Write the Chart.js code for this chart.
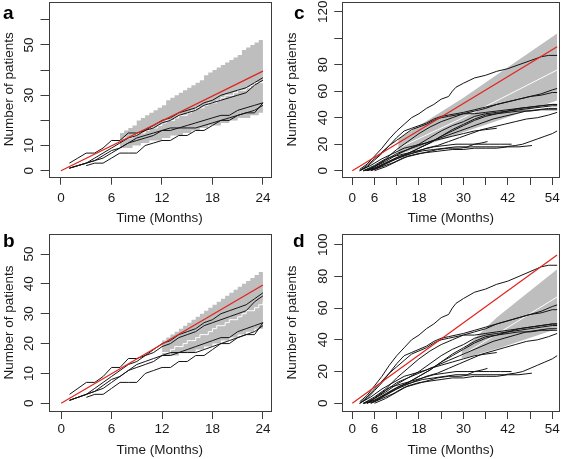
<!DOCTYPE html>
<html>
<head>
<meta charset="utf-8">
<script src="https://cdn.jsdelivr.net/npm/chart.js@4.4.0/dist/chart.umd.min.js"></script>
<style>
  html, body { margin: 0; padding: 0; background: #fff; }
  #wrap { position: relative; width: 567px; height: 459px; }
  canvas { position: absolute; }
</style>
</head>
<body>
<div id="wrap">
  <canvas id="pa" width="283" height="229" style="left:0;top:0"></canvas>
  <canvas id="pc" width="284" height="229" style="left:283px;top:0"></canvas>
  <canvas id="pb" width="283" height="230" style="left:0;top:229px"></canvas>
  <canvas id="pd" width="284" height="230" style="left:283px;top:229px"></canvas>
</div>
<script>
// ---- data: panels a/b (24 months, 5 sites), monthly cumulative counts ----
const abStart = [1, 1, 1, 1, 3];
const abSite1 = [3,5,7,7,9,12,12,15,15,16,18,20,21,23,24,25,27,28,30,31,32,33,35,37];
const abSite2 = [1,2,3,5,7,9,11,13,14,16,17,19,20,22,23,24,26,27,28,29,30,31,34,36];
const abSite3 = [1,2,3,4,6,8,9,11,13,14,15,16,17,17,18,19,20,21,22,22,24,25,26,27];
const abSite4 = [1,2,3,4,5,7,9,11,12,13,14,16,16,17,17,17,18,19,20,21,22,23,24,26];
const abSite5 = [2,3,3,5,7,7,7,10,11,12,12,14,14,16,16,18,20,20,22,23,23,27];
const abTarget = [[0, 0], [24, 39.6]];

// prediction bands (half-month steps)
const aBandStart = 7;
const aUpper  = [15,16,17,18,20,21,22,23,24,25,26,28,29,30,31,32,33,34,35,36,38,39,40,41,42,43,44,45,46,48,49,50,51,52,53.5];
const aLower  = [9,9,9,10,10,11,11,12,12,12,13,13,14,14,14,15,15,16,16,17,17,18,18,18,19,19,20,20,21,21,21,22,22,23,23];
const aMedian = [12,13,13,14,15,15,16,17,17,18,19,20,20,21,22,22,23,24,25,25,26,27,27,28,29,30,30,31,32,32,33,34,35,35,36];
const bBandStart = 12;
const bUpper  = [21,22,23,24,25,26,27,28,29,30,31,32,33,34,35,36,37,38,39,40,41,42,43,44,45];
const bLower  = [16,16,16,16,17,17,17,17,18,18,19,19,20,20,21,21,22,22,23,23,24,24,25,25,26];
const bMedian = [17,17,18,19,19,20,21,21,22,23,23,24,25,26,26,27,28,28,29,30,31,31,32,33,34];

// ---- data: panels c/d (about 55 months, 14 sites) as [month, patients] ----
const cdSites = [
  [[2,1],[4,5],[6,11],[8,17],[10,24],[12,30],[14,35],[16,40],[18,43],[20,47],[22,50],[24,54],[26,56],[27,60],[28,63],[30,66],[33,70],[36,72],[39,75],[42,77],[45,80],[48,83],[51,86],[53,87],[55.3,87]],
  [[2,0],[4,3],[6,8],[8,13],[10,19],[12,25],[14,30],[16,32],[18,34],[20,36],[22,39],[24,41],[26,42],[28,43],[30,44],[33,46],[36,48],[39,50],[42,52],[45,54],[48,56],[51,58],[54,61],[55.3,62]],
  [[3,0],[6,4],[9,9],[12,16],[15,22],[18,28],[21,33],[24,37],[27,40],[30,43],[33,45],[36,47],[39,50],[42,52],[45,54],[48,56],[51,57],[54,59],[55.3,59]],
  [[3,0],[6,2],[9,6],[12,10],[15,13],[18,17],[21,21],[24,26],[27,30],[30,34],[33,38],[36,41],[39,43],[42,45],[45,47],[48,48],[51,49],[54,50],[55.3,50]],
  [[4,0],[6,3],[9,7],[12,12],[15,16],[18,20],[21,25],[24,30],[27,34],[30,37],[33,41],[36,43],[39,44],[42,45],[45,46],[48,47],[51,48],[54,49],[55.3,49]],
  [[2,0],[5,4],[8,9],[11,13],[14,17],[17,19],[20,21],[23,24],[26,27],[29,30],[32,33],[35,36],[38,39],[41,41],[44,43],[47,45],[50,46],[53,47],[55.3,47]],
  [[3,0],[6,1],[9,5],[12,9],[15,13],[18,17],[21,21],[24,26],[27,31],[30,35],[33,39],[36,42],[39,43],[42,44],[45,45],[48,45],[51,46],[55.3,46]],
  [[5,0],[8,4],[11,8],[14,11],[17,14],[20,17],[23,19],[26,22],[29,25],[32,28],[35,31],[38,33],[41,35],[44,37],[47,39],[50,40],[53,42],[55.3,44]],
  [[5,0],[8,3],[11,6],[14,10],[17,12],[20,14],[23,16],[26,17],[29,17],[32,18],[35,18],[38,18],[41,18],[44,19],[46,20],[48,22],[50,24],[52,26],[54,28],[55.3,30]],
  [[4,0],[7,3],[10,7],[13,11],[16,13],[19,15],[22,16],[25,17],[28,18],[31,18],[33,20],[35,21],[36.5,22]],
  [[6,0],[9,3],[12,7],[15,11],[18,13],[21,14],[24,15],[27,16],[30,16],[33,17],[36,17],[39,17],[42,18],[45,18],[48.5,19]],
  [[4,0],[7,5],[10,10],[13,12],[16,14],[19,16],[22,18],[25,19],[28,20],[31,20],[34,20],[37,20],[40,20],[43,20]],
  [[3,0],[6,3],[9,8],[12,13],[15,16],[18,19],[21,22],[24,24],[27,26],[30,28],[33,30],[36,31],[39,32]],
  [[2,0],[4,4],[6,9],[8,14],[10,19],[12,23],[14,27],[16,31],[18,33],[20,35],[22,38],[24,40],[26,41],[28,42],[30,43],[33,43],[36,44],[39,45],[42,46],[45,47],[48,48],[51,49],[54,50],[55.3,50]]
];
const cdTarget = [[0, 0], [55.3, 93.5]];
const cUpper  = [[12.4, 24], [30, 55], [55.3, 103.6]];
const cLower  = [[12.4, 12], [30, 29], [55.3, 53]];
const cMedian = [[12.4, 17], [30, 40], [55.3, 76]];
const dUpper  = [[29.5, 33], [39, 54], [55.3, 84.5]];
const dLower  = [[29.5, 28], [40, 35], [55.3, 47]];
const dMedian = [[29.5, 30], [40, 45], [55.3, 67]];

// ---- ticks ----
const xTicksAB = [0, 6, 12, 18, 24];
const xLabelsAB = [0, 6, 12, 18, 24];
const xTicksCD = [0, 6, 12, 18, 24, 30, 36, 42, 48, 54];
const xLabelsCD = [0, 6, 18, 30, 42, 54];
const yTicksA = [0, 10, 20, 30, 40, 50, 60];
const yLabelsA = [0, 10, 30, 50];
const yTicksB = [0, 10, 20, 30, 40, 50];
const yLabelsB = [0, 10, 20, 30, 40, 50];
const yTicksC = [0, 20, 40, 60, 80, 100, 120];
const yLabelsC = [0, 20, 40, 60, 80, 120];
const yTicksD = [0, 20, 40, 60, 80, 100];
const yLabelsD = [0, 20, 40, 60, 80, 100];

Chart.defaults.font.family = '"Liberation Sans", Arial, sans-serif';
Chart.defaults.font.size = 13.5;
Chart.defaults.color = '#1a1a1a';

const AXIS = '#3c3c3c';
const BAND = '#bebebe';

const pairs = arr => arr.map(p => ({x: p[0], y: p[1]}));
const monthly = (start, step, vals) => vals.map((v, i) => ({x: start + i * step, y: v}));

function line(data, color, extra) {
  return Object.assign({data: data, borderColor: color, borderWidth: 1, pointRadius: 0,
    tension: 0, fill: false}, extra || {});
}

function buildSets(sites, target, upper, lower, median, stepped) {
  const sets = [line(target, '#e3221b', {borderWidth: 1.2})];
  sites.forEach(s => sets.push(line(s, '#141414')));
  sets.push(line(median, '#ffffff', {stepped: stepped}));
  const up = sets.length;
  sets.push(line(upper, 'rgba(0,0,0,0)', {stepped: stepped}));
  sets.push(line(lower, 'rgba(0,0,0,0)', {stepped: stepped, fill: {target: up}, backgroundColor: BAND}));
  return sets;
}

const boxPlugin = {
  id: 'boxPlugin',
  afterDraw(chart, args, opts) {
    const a = chart.chartArea, ctx = chart.ctx;
    ctx.save();
    ctx.strokeStyle = AXIS;
    ctx.lineWidth = 1;
    ctx.strokeRect(Math.round(a.left) + 0.5, Math.round(a.top) + 0.5,
      Math.round(a.right - a.left), Math.round(a.bottom - a.top));
    ctx.fillStyle = '#000';
    ctx.font = 'bold 19px "Liberation Sans", Arial, sans-serif';
    ctx.textBaseline = 'alphabetic';
    ctx.fillText(opts.letter, opts.lx, opts.ly);
    ctx.restore();
  }
};

function panel(id, p) {
  const grid = {drawOnChartArea: false, drawTicks: true, tickLength: 8, color: AXIS, lineWidth: 1};
  new Chart(document.getElementById(id), {
    type: 'line',
    data: {datasets: p.sets},
    options: {
      responsive: false, animation: false, devicePixelRatio: 1,
      layout: {padding: {left: 0, top: p.top, right: p.right, bottom: 0}},
      plugins: {legend: {display: false}, tooltip: {enabled: false},
        boxPlugin: {letter: p.letter, lx: p.lx, ly: p.ly}},
      scales: {
        x: {
          type: 'linear', min: p.xMin, max: p.xMax,
          afterBuildTicks: s => { s.ticks = p.xTicks.map(v => ({value: v})); },
          afterFit: s => { s.height = p.xH; s.paddingLeft = 0; s.paddingRight = 0; },
          ticks: {autoSkip: false, maxRotation: 0, padding: p.xPad,
            callback: v => p.xLabels.includes(v) ? String(v) : ''},
          grid: grid, border: {display: false},
          title: {display: true, text: 'Time (Months)', padding: {top: 0, bottom: p.tPad}}
        },
        y: {
          min: p.yMin, max: p.yMax,
          afterBuildTicks: s => { s.ticks = p.yTicks.map(v => ({value: v})); },
          afterFit: s => { s.width = p.left; s.paddingTop = 0; s.paddingBottom = 0; },
          ticks: {autoSkip: false, minRotation: 90, maxRotation: 90, crossAlign: 'center',
            padding: p.yPad, callback: v => p.yLabels.includes(v) ? String(v) : ''},
          grid: grid, border: {display: false},
          title: {display: true, text: 'Number of patients', padding: {top: 1, bottom: 0}}
        }
      }
    },
    plugins: [boxPlugin]
  });
}

const abSites = [abSite1, abSite2, abSite3, abSite4, abSite5].map((s, i) => monthly(abStart[i], 1, s));
const cdLines = cdSites.map(pairs);

panel('pa', {
  sets: buildSets(abSites, pairs(abTarget), monthly(aBandStart, 0.5, aUpper),
    monthly(aBandStart, 0.5, aLower), monthly(aBandStart, 0.5, aMedian), true),
  letter: 'a', lx: 3, ly: 19,
  top: 1.7, right: 12.3, left: 48.5, xH: 52.3, xPad: 5, tPad: 3, yPad: 3.5,
  xMin: -1.48, xMax: 24.92, yMin: -2.39, yMax: 67.2,
  xTicks: xTicksAB, xLabels: xLabelsAB, yTicks: yTicksA, yLabels: yLabelsA
});
panel('pb', {
  sets: buildSets(abSites, pairs(abTarget), monthly(bBandStart, 0.5, bUpper),
    monthly(bBandStart, 0.5, bLower), monthly(bBandStart, 0.5, bMedian), true),
  letter: 'b', lx: 3, ly: 17.5,
  top: 5, right: 12.3, left: 48.7, xH: 48, xPad: 2, tPad: 1, yPad: 3.5,
  xMin: -1.48, xMax: 24.92, yMin: -2.58, yMax: 56.7,
  xTicks: xTicksAB, xLabels: xLabelsAB, yTicks: yTicksB, yLabels: yLabelsB
});
panel('pc', {
  sets: buildSets(cdLines, pairs(cdTarget), pairs(cUpper), pairs(cLower), pairs(cMedian), false),
  letter: 'c', lx: 11, ly: 19,
  top: 2, right: 7.7, left: 59.3, xH: 52, xPad: 5, tPad: 3, yPad: 0,
  xMin: -2.7, xMax: 55.89, yMin: -4.75, yMax: 127.3,
  xTicks: xTicksCD, xLabels: xLabelsCD, yTicks: yTicksC, yLabels: yLabelsC
});
panel('pd', {
  sets: buildSets(cdLines, pairs(cdTarget), pairs(dUpper), pairs(dLower), pairs(dMedian), false),
  letter: 'd', lx: 10, ly: 17.5,
  top: 5, right: 7.7, left: 59.3, xH: 48, xPad: 2, tPad: 1, yPad: 0,
  xMin: -2.7, xMax: 55.89, yMin: -4.86, yMax: 106.7,
  xTicks: xTicksCD, xLabels: xLabelsCD, yTicks: yTicksD, yLabels: yLabelsD
});
</script>
</body>
</html>
